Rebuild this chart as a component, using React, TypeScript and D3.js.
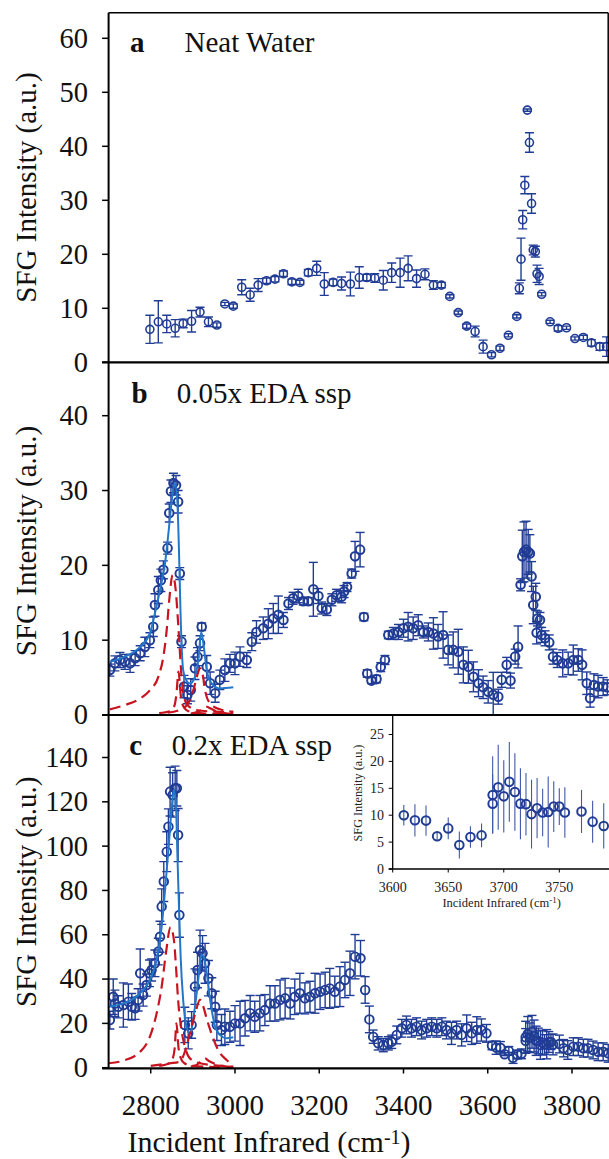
import React, { useEffect, useRef } from 'react';
import * as d3 from 'd3';

const FONT = '"Liberation Serif", "Times New Roman", Times, serif';
const DATA_BLUE = '#203c94';
const FIT_BLUE = '#2277c8';
const FIT_RED = '#c8141e';

// [wavenumber, intensity, error]
const neatWater = [
  [2798, 6.1, 2.6], [2818, 7.5, 3.9], [2838, 7.1, 1.6], [2858, 6.3, 1.6], [2877, 7.2, 0.8],
  [2897, 7.6, 2.0], [2917, 9.3, 0.9], [2937, 7.5, 0.9], [2957, 6.9, 0.4], [2976, 10.8, 0.3],
  [2996, 10.4, 0.4], [3016, 13.9, 1.4], [3036, 12.5, 1.2], [3055, 14.3, 1.2], [3075, 15.1, 0.5],
  [3095, 15.4, 0.5], [3115, 16.4, 0.5], [3135, 14.9, 0.5], [3154, 14.8, 0.4], [3174, 16.6, 0.6],
  [3194, 17.4, 1.3], [3212, 14.5, 2.1], [3233, 14.8, 0.6], [3253, 14.6, 1.2], [3274, 14.5, 2.2],
  [3295, 15.7, 2.0], [3313, 15.7, 0.6], [3332, 15.6, 0.8], [3352, 15.2, 1.8], [3372, 16.6, 1.8],
  [3392, 16.6, 2.7], [3411, 17.4, 2.3], [3431, 15.5, 1.6], [3451, 16.3, 1.0], [3471, 14.3, 0.8],
  [3490, 14.3, 0.5], [3510, 12.2, 0.3], [3530, 9.2, 0.3], [3550, 6.7, 0.4], [3570, 5.7, 1.0],
  [3589, 2.9, 1.2], [3609, 1.4, 0.4], [3629, 2.6, 0.4], [3649, 5.0, 0.3], [3669, 8.5, 0.3],
  [3675, 13.7, 1.0], [3679, 19.1, 3.9], [3683, 26.4, 1.7], [3688, 32.8, 1.6], [3694, 46.7, 0.2],
  [3699, 40.7, 1.8], [3704, 29.4, 1.8], [3708, 20.8, 0.9], [3713, 20.5, 1.0], [3717, 16.4, 1.6],
  [3722, 15.9, 1.5], [3728, 12.6, 0.3], [3748, 7.5, 0.3], [3767, 6.3, 0.5], [3787, 6.4, 0.3],
  [3807, 4.4, 0.3], [3827, 4.6, 0.4], [3846, 3.6, 0.6], [3866, 2.9, 0.7], [3882, 2.9, 1.8],
];

const eda005 = [
  [2703, 6.0, 0.8], [2715, 6.9, 1.0], [2727, 7.35, 1.0], [2739, 7.1, 1.0], [2751, 6.9, 1.2],
  [2763, 7.6, 1.0], [2775, 8.25, 1.0], [2786, 9.1, 1.3], [2798, 10.0, 1.0], [2806, 11.8, 1.3],
  [2810, 14.7, 1.5], [2818, 16.7, 1.8], [2824, 18.0, 1.5], [2830, 19.4, 1.2], [2840, 22.3, 0.8],
  [2844, 27.0, 1.2], [2848, 29.9, 1.5], [2854, 31.0, 1.3], [2860, 30.7, 1.3], [2865, 28.5, 1.5],
  [2869, 18.9, 0.8], [2873, 9.8, 0.8], [2879, 3.8, 1.5], [2887, 2.7, 1.2], [2895, 3.35, 1.5],
  [2905, 6.25, 1.5], [2911, 7.8, 1.2], [2917, 9.6, 1.0], [2921, 11.8, 0.5], [2933, 6.45, 1.5],
  [2941, 4.25, 1.5], [2953, 2.9, 1.2], [2964, 4.7, 1.3], [2976, 6.0, 1.5], [2988, 6.9, 1.2],
  [3000, 6.9, 1.5], [3012, 7.8, 1.3], [3028, 7.35, 1.0], [3040, 9.8, 1.2], [3051, 11.1, 1.5],
  [3067, 11.6, 1.5], [3079, 12.2, 2.0], [3091, 12.9, 2.0], [3103, 13.4, 2.5], [3115, 12.7, 1.0],
  [3127, 14.9, 0.8], [3138, 15.6, 0.8], [3150, 15.9, 0.9], [3162, 15.2, 0.5], [3174, 15.2, 0.5],
  [3186, 16.8, 3.6], [3198, 15.9, 1.0], [3206, 14.3, 0.8], [3218, 14.1, 0.8], [3230, 15.4, 0.8],
  [3241, 16.0, 0.8], [3253, 15.8, 0.8], [3259, 16.5, 0.8], [3266, 17.1, 0.6], [3277, 18.9, 0.6],
  [3285, 21.2, 2.0], [3297, 22.1, 2.3], [3306, 13.1, 0.5], [3314, 5.55, 0.5], [3324, 4.6, 0.4],
  [3336, 4.8, 0.5], [3346, 6.4, 0.6], [3356, 7.35, 0.6], [3364, 10.7, 0.5], [3376, 10.9, 0.8],
  [3388, 11.1, 1.0], [3400, 11.6, 1.2], [3411, 11.8, 1.9], [3423, 11.6, 1.5], [3435, 12.0, 1.4],
  [3447, 11.1, 0.8], [3459, 11.1, 1.2], [3471, 10.9, 2.1], [3482, 10.5, 1.6], [3494, 10.7, 3.1],
  [3506, 8.7, 2.0], [3518, 8.7, 2.4], [3530, 8.45, 3.0], [3542, 6.7, 2.4], [3554, 6.45, 2.2],
  [3566, 5.1, 2.0], [3578, 4.25, 1.8], [3589, 3.7, 1.5], [3601, 3.1, 1.5], [3613, 2.7, 3.0],
  [3625, 2.45, 1.0], [3633, 4.7, 1.0], [3645, 6.7, 1.0], [3654, 4.6, 1.0], [3665, 7.8, 1.0],
  [3672, 9.1, 2.8], [3678, 17.4, 0.8], [3682, 21.2, 3.5], [3686, 21.8, 4.0], [3691, 22.1, 3.8],
  [3696, 21.8, 3.0], [3700, 21.6, 2.5], [3704, 18.5, 2.0], [3708, 14.7, 2.5], [3714, 15.8, 1.8],
  [3716, 11.0, 1.5], [3718, 12.9, 1.0], [3724, 12.7, 1.0], [3728, 10.7, 1.0], [3736, 10.25, 1.0],
  [3746, 9.7, 1.0], [3755, 7.8, 1.0], [3765, 7.35, 1.0], [3778, 6.9, 1.8], [3791, 6.9, 1.5],
  [3803, 7.35, 2.0], [3815, 7.35, 1.5], [3824, 6.7, 2.0], [3835, 4.25, 1.5], [3843, 2.25, 1.2],
  [3852, 4.0, 1.5], [3862, 3.8, 1.5], [3874, 3.8, 1.2], [3884, 3.7, 1.0],
];

// fitted curves for panel b: [wavenumber, intensity]
const eda005Fit = [
  [2703, 7.1], [2739, 7.8], [2775, 9.1], [2798, 10.9], [2810, 13.6], [2822, 16.7], [2834, 20.3],
  [2842, 24.3], [2850, 28.7], [2857, 31.0], [2863, 28.7], [2867, 22.1], [2871, 13.1], [2877, 6.0],
  [2884, 4.7], [2893, 4.2], [2905, 5.1], [2913, 7.4], [2920, 11.1], [2926, 9.1], [2933, 6.0],
  [2945, 4.2], [2964, 3.55], [2996, 3.7],
];
const eda005Peak1 = [
  [2703, 0.76], [2739, 1.34], [2775, 2.2], [2798, 3.3], [2818, 5.1], [2830, 7.8], [2838, 11.4],
  [2844, 15.4], [2852, 18.7], [2860, 16.3], [2865, 12.3], [2869, 8.7], [2873, 5.1], [2879, 2.45],
  [2887, 1.34], [2909, 0.67], [2948, 0.45], [2996, 0.36],
];
const eda005Peak2 = [
  [2820, 0.25], [2845, 0.5], [2856, 1.2], [2861, 2.8], [2866, 5.8], [2871, 2.8], [2877, 1.2],
  [2890, 0.5], [2930, 0.2], [2996, 0.1],
];
const eda005Peak3 = [
  [2840, 0.3], [2877, 0.9], [2889, 1.56], [2901, 3.3], [2910, 5.2], [2917, 6.25], [2924, 5.2],
  [2929, 3.3], [2941, 1.56], [2964, 0.76], [2996, 0.45],
];
const eda005Peak4 = [
  [2895, 0.2], [2915, 0.5], [2925, 0.9], [2933, 1.1], [2941, 0.9], [2955, 0.5], [2975, 0.25], [2996, 0.15],
];

// inset (3600-3800 region of panel c)
const insetPoints = [
  [3610, 10.0, 1.9], [3620, 9.05, 3.0], [3630, 9.0, 2.8], [3640, 6.1, 0.65], [3650, 7.55, 2.0],
  [3660, 4.45, 2.5], [3670, 5.95, 2.0], [3680, 6.25, 2.2], [3690, 13.75, 7.2], [3690, 12.15, 5.5],
  [3695, 15.2, 7.9], [3700, 13.5, 6.7], [3705, 16.2, 7.4], [3710, 14.3, 7.2], [3715, 12.15, 6.6],
  [3720, 12.05, 5.8], [3725, 10.2, 6.4], [3730, 11.3, 5.6], [3735, 10.5, 4.4], [3740, 10.6, 6.6],
  [3745, 11.6, 4.7], [3750, 11.6, 3.4], [3755, 10.5, 4.7], [3770, 10.7, 4.0], [3780, 8.8, 3.9],
  [3790, 8.0, 4.2],
];

const eda02Main = [
  [2703, 21.5, 4], [2711, 32, 8], [2715, 29, 6], [2723, 27.5, 5], [2735, 28.3, 10], [2747, 29.8, 8],
  [2755, 27.5, 6], [2763, 26.8, 5], [2770, 30.6, 5], [2775, 42.6, 11], [2782, 32.8, 5], [2790, 37.3, 5],
  [2797, 42.6, 6], [2802, 44.1, 5], [2810, 47.1, 6], [2818, 52.4, 6], [2822, 59.1, 7], [2826, 72.7, 8],
  [2831, 84, 9], [2838, 97.5, 9], [2842, 108.8, 8], [2846, 124.6, 11], [2852, 123.1, 10], [2858, 126.1, 10],
  [2862, 126.1, 8], [2865, 105, 12], [2868, 68.9, 10], [2881, 19.3, 8], [2889, 15.5, 7], [2897, 19.3, 6],
  [2905, 36.6, 8], [2911, 44.1, 8], [2917, 53.1, 9], [2923, 51.6, 8], [2929, 47.1, 9], [2937, 40.4, 8],
  [2945, 33.6, 7], [2953, 27.5, 7], [2957, 19.3, 7], [2968, 17, 7], [2976, 18.5, 8], [2988, 18.5, 7],
  [3000, 20, 8], [3012, 20, 10], [3024, 22.3, 8], [3036, 24.6, 8], [3047, 23, 7], [3059, 24.6, 8],
  [3071, 26, 7], [3083, 29, 8], [3095, 29, 8], [3107, 30.6, 9], [3119, 31.3, 9], [3131, 29, 7],
  [3142, 32, 8], [3154, 33.6, 9], [3166, 31.3, 7], [3178, 32, 7], [3190, 33.6, 9], [3202, 34.3, 8],
  [3214, 35.1, 8], [3225, 35.8, 9], [3237, 34.3, 7], [3249, 36.6, 9], [3261, 39.6, 8], [3273, 42.6, 10],
  [3285, 50.1, 10], [3298, 49.4, 8], [3309, 35.1, 6], [3319, 21.8, 6], [3328, 14, 3], [3340, 11, 3],
  [3352, 10.2, 3], [3364, 11, 3], [3372, 11.7, 3], [3384, 14.8, 4], [3396, 17.8, 4], [3407, 19.3, 4],
  [3419, 17.8, 4], [3431, 18.5, 4], [3443, 17, 4], [3455, 17.8, 4], [3467, 18.5, 4], [3479, 17.8, 4],
  [3491, 18.5, 4], [3502, 17, 4], [3514, 15.5, 5], [3526, 17, 4], [3538, 14.8, 5], [3550, 17.8, 6],
  [3562, 15.5, 5], [3574, 17, 6], [3585, 17, 5], [3597, 15.5, 4],
];
const eda02Tail = [
  [3803, 9.5, 4], [3815, 9.5, 4], [3827, 8.8, 4], [3838, 8.8, 4], [3850, 8, 4], [3862, 7.2, 4],
  [3874, 7.2, 4], [3886, 6.5, 4],
];

const eda02Fit = [
  [2700, 27.5], [2735, 29], [2775, 33.6], [2798, 39.6], [2814, 48.6], [2826, 63.6], [2834, 80.2],
  [2842, 98.3], [2850, 117.8], [2855, 125.4], [2860, 117.8], [2863, 98.3], [2867, 72.7], [2871, 50.1],
  [2877, 30.6], [2885, 18.5], [2893, 15.5], [2905, 27.5], [2913, 40], [2920, 51], [2926, 50],
  [2933, 42.6], [2941, 30.6], [2953, 18.5], [2964, 14.8], [2980, 13.3], [2996, 13.7],
];
const eda02Peak1 = [
  [2700, 2.0], [2735, 3.2], [2775, 7.2], [2798, 14], [2814, 24.5], [2826, 36.6], [2836, 51.6],
  [2847, 63.4], [2855, 57.7], [2860, 45.6], [2865, 30.6], [2873, 17], [2881, 9.5], [2893, 4.2],
  [2917, 2], [2972, 0.8], [2996, 0.45],
];
const eda02Peak2 = [
  [2820, 0.8], [2845, 2], [2852, 4], [2857, 9], [2861, 20], [2866, 9], [2872, 4], [2880, 2],
  [2900, 0.8], [2950, 0.3], [2996, 0.2],
];
const eda02Peak3 = [
  [2800, 0.8], [2845, 2], [2869, 2.7], [2881, 7.2], [2893, 15.5], [2905, 24], [2917, 30.6],
  [2925, 27.5], [2933, 22], [2945, 15], [2960, 8], [2980, 3.5], [2996, 1.2],
];
const eda02Peak4 = [
  [2895, 0.5], [2909, 1.2], [2920, 3], [2929, 4.2], [2938, 3], [2953, 1.7], [2975, 0.6], [2996, 0.3],
];

const xTicks = [2800, 3000, 3200, 3400, 3600, 3800];
const yTicksA = [0, 10, 20, 30, 40, 50, 60];
const yTicksB = [0, 10, 20, 30, 40];
const yTicksC = [0, 20, 40, 60, 80, 100, 120, 140];
const insetXTicks = [3600, 3650, 3700, 3750];
const insetYTicks = [0, 5, 10, 15, 20, 25];

export default function App() {
  const ref = useRef<SVGSVGElement>(null);

  useEffect(() => {
    const svg = d3.select(ref.current);
    svg.selectAll('*').remove();

    const left = 108.6;
    const right = 609;
    const x = d3.scaleLinear().domain([2700, 3800]).range([left, 572]);

    const panels = [
      { key: 'a', top: 12.7, bottom: 362.3, y: d3.scaleLinear().domain([0, 60]).range([362.3, 38.3]),
        ticks: yTicksA, letter: 'a', title: 'Neat Water', lx: 130, tx: 184.5, ty: 51.7, ayc: 187.5, r: 4, sw: 1.6 },
      { key: 'b', top: 362.3, bottom: 715, y: d3.scaleLinear().domain([0, 40]).range([715, 415.7]),
        ticks: yTicksB, letter: 'b', title: '0.05x EDA ssp', lx: 131.5, tx: 176.7, ty: 403.3, ayc: 541, r: 4.3, sw: 2 },
      { key: 'c', top: 715, bottom: 1068, y: d3.scaleLinear().domain([0, 140]).range([1067.7, 757.5]),
        ticks: yTicksC, letter: 'c', title: '0.2x EDA ssp', lx: 129.3, tx: 171.7, ty: 755, ayc: 891.7, r: 4.3, sw: 1.9 },
    ];

    const defs = svg.append('defs');
    panels.forEach(p => {
      defs.append('clipPath').attr('id', 'clip-' + p.key)
        .append('rect').attr('x', left).attr('y', p.top).attr('width', right - left).attr('height', p.bottom - p.top);
    });

    const drawPoints = (g, rows, xs, ys, caps, barColor, barWidth, r, sw) => {
      const pts = g.append('g');
      rows.forEach(d => {
        const cx = xs(d[0]);
        const y1 = ys(d[1] - d[2]);
        const y2 = ys(d[1] + d[2]);
        pts.append('line').attr('x1', cx).attr('x2', cx).attr('y1', y1).attr('y2', y2)
          .attr('stroke', barColor).attr('stroke-width', barWidth);
        if (caps) {
          [y1, y2].forEach(yy => {
            pts.append('line').attr('x1', cx - 4.5).attr('x2', cx + 4.5).attr('y1', yy).attr('y2', yy)
              .attr('stroke', barColor).attr('stroke-width', barWidth);
          });
        }
      });
      pts.selectAll('circle').data(rows).enter().append('circle')
        .attr('cx', d => xs(d[0])).attr('cy', d => ys(d[1])).attr('r', r)
        .attr('fill', 'none').attr('stroke', DATA_BLUE).attr('stroke-width', sw);
    };

    const drawCurve = (g, rows, ys, color, dashed) => {
      const line = d3.line().x(d => x(d[0])).y(d => ys(d[1])).curve(d3.curveMonotoneX);
      g.append('path').datum(rows).attr('d', line).attr('fill', 'none')
        .attr('stroke', color).attr('stroke-width', dashed ? 2.2 : 2)
        .attr('stroke-dasharray', dashed ? '11 6' : null);
    };

    const eda02 = eda02Main.concat(insetPoints, eda02Tail);
    const series = { a: neatWater, b: eda005, c: eda02 };

    panels.forEach(p => {
      const g = svg.append('g').attr('clip-path', `url(#clip-${p.key})`);
      drawPoints(g, series[p.key], x, p.y, true, DATA_BLUE, 1.4, p.r, p.sw);
      if (p.key === 'b') {
        drawCurve(g, eda005Fit, p.y, FIT_BLUE, false);
        [eda005Peak1, eda005Peak2, eda005Peak3, eda005Peak4].forEach(c => drawCurve(g, c, p.y, FIT_RED, true));
      }
      if (p.key === 'c') {
        drawCurve(g, eda02Fit, p.y, FIT_BLUE, false);
        [eda02Peak1, eda02Peak2, eda02Peak3, eda02Peak4].forEach(c => drawCurve(g, c, p.y, FIT_RED, true));
      }

      // y ticks and labels
      const ax = svg.append('g');
      p.ticks.forEach(t => {
        ax.append('line').attr('x1', left - 6.5).attr('x2', left).attr('y1', p.y(t)).attr('y2', p.y(t))
          .attr('stroke', '#000').attr('stroke-width', 1.5);
        ax.append('text').attr('x', 88).attr('y', p.y(t)).attr('dy', '0.33em')
          .attr('text-anchor', 'end').attr('font-family', FONT).attr('font-size', 28.5).attr('fill', '#111')
          .text(t);
      });
      ax.append('text')
        .attr('transform', `translate(36,${p.ayc}) rotate(-90)`)
        .attr('text-anchor', 'middle').attr('font-family', FONT).attr('font-size', 29).attr('fill', '#111')
        .text('SFG Intensity (a.u.)');
      ax.append('text').attr('x', p.lx).attr('y', p.ty).attr('font-family', FONT).attr('font-size', 29)
        .attr('font-weight', 'bold').attr('fill', '#111').text(p.letter);
      ax.append('text').attr('x', p.tx).attr('y', p.ty).attr('font-family', FONT).attr('font-size', 29)
        .attr('fill', '#111').text(p.title);
    });

    // inset
    const iLeft = 392.7, iTop = 715, iBottom = 869;
    const xI = d3.scaleLinear().domain([3600, 3750]).range([iLeft, 559.3]);
    const yI = d3.scaleLinear().domain([0, 25]).range([iBottom, 734.5]);
    const ig = svg.append('g');
    ig.append('rect').attr('x', iLeft).attr('y', iTop).attr('width', right - iLeft).attr('height', iBottom - iTop)
      .attr('fill', '#fff');
    defs.append('clipPath').attr('id', 'clip-inset')
      .append('rect').attr('x', iLeft).attr('y', iTop).attr('width', right - iLeft).attr('height', iBottom - iTop);
    const igData = ig.append('g').attr('clip-path', 'url(#clip-inset)');
    drawPoints(igData, insetPoints, xI, yI, false, '#4159a8', 1.1, 4.3, 2);

    ig.append('line').attr('x1', iLeft).attr('x2', iLeft).attr('y1', iTop).attr('y2', iBottom)
      .attr('stroke', '#000').attr('stroke-width', 1.3);
    ig.append('line').attr('x1', iLeft).attr('x2', right).attr('y1', iTop).attr('y2', iTop)
      .attr('stroke', '#000').attr('stroke-width', 1.3);
    ig.append('line').attr('x1', iLeft - 4).attr('x2', right).attr('y1', iBottom).attr('y2', iBottom)
      .attr('stroke', '#000').attr('stroke-width', 1.3);
    insetYTicks.forEach(t => {
      ig.append('line').attr('x1', iLeft - 4).attr('x2', iLeft).attr('y1', yI(t)).attr('y2', yI(t))
        .attr('stroke', '#000').attr('stroke-width', 1);
      ig.append('text').attr('x', 384).attr('y', yI(t)).attr('dy', '0.33em').attr('text-anchor', 'end')
        .attr('font-family', FONT).attr('font-size', 14).attr('fill', '#222').text(t);
    });
    insetXTicks.forEach(t => {
      ig.append('line').attr('x1', xI(t)).attr('x2', xI(t)).attr('y1', iBottom).attr('y2', iBottom + 3.5)
        .attr('stroke', '#000').attr('stroke-width', 1);
      ig.append('text').attr('x', xI(t)).attr('y', 891.7).attr('text-anchor', 'middle')
        .attr('font-family', FONT).attr('font-size', 14).attr('fill', '#222').text(t);
    });
    ig.append('text').attr('transform', 'translate(362,793) rotate(-90)').attr('text-anchor', 'middle')
      .attr('font-family', FONT).attr('font-size', 12.2).attr('fill', '#222').text('SFG Intensity (a.u.)');
    const it = ig.append('text').attr('x', 501.7).attr('y', 906.7).attr('text-anchor', 'middle')
      .attr('font-family', FONT).attr('font-size', 12.5).attr('fill', '#222');
    it.append('tspan').text('Incident Infrared (cm');
    it.append('tspan').attr('font-size', 9).attr('dy', -4).text('-1');
    it.append('tspan').attr('dy', 4).text(')');

    // frame and axes
    const fr = svg.append('g').attr('stroke', '#000').attr('fill', 'none');
    fr.append('line').attr('x1', left).attr('x2', 608.2).attr('y1', 12.7).attr('y2', 12.7).attr('stroke-width', 1.5);
    fr.append('line').attr('x1', 608.2).attr('x2', 608.2).attr('y1', 12.7).attr('y2', 362.3).attr('stroke-width', 1.5);
    fr.append('line').attr('x1', left).attr('x2', left).attr('y1', 12.7).attr('y2', 1068.3).attr('stroke-width', 2);
    [362.3, 715, 1068.3].forEach(yy => {
      fr.append('line').attr('x1', left - 6.5).attr('x2', right).attr('y1', yy).attr('y2', yy).attr('stroke-width', 2.2);
    });

    // x axis
    const xa = svg.append('g');
    xTicks.forEach(t => {
      xa.append('line').attr('x1', x(t)).attr('x2', x(t)).attr('y1', 1068.3).attr('y2', 1073.5)
        .attr('stroke', '#000').attr('stroke-width', 1.5);
      xa.append('text').attr('x', x(t)).attr('y', 1115).attr('text-anchor', 'middle')
        .attr('font-family', FONT).attr('font-size', 29).attr('fill', '#111').text(t);
    });
    const xt = xa.append('text').attr('x', 269).attr('y', 1151.7).attr('text-anchor', 'middle')
      .attr('font-family', FONT).attr('font-size', 30).attr('fill', '#111');
    xt.append('tspan').text('Incident Infrared (cm');
    xt.append('tspan').attr('font-size', 20).attr('dy', -8).text('-1');
    xt.append('tspan').attr('dy', 8).text(')');
  }, []);

  return (
    <svg ref={ref} width={609} height={1159}
      style={{ position: 'absolute', left: 0, top: 0, background: '#fff' }} />
  );
}
